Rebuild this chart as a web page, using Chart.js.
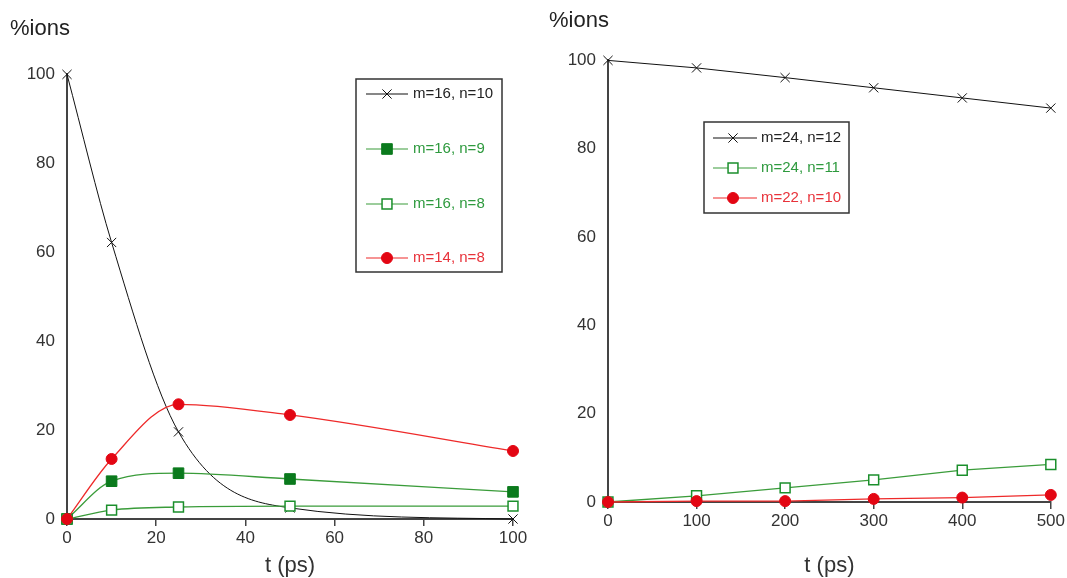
<!DOCTYPE html>
<html>
<head>
<meta charset="utf-8">
<script src="https://cdn.jsdelivr.net/npm/chart.js@4.4.0/dist/chart.umd.min.js"></script>
<style>
  html, body { margin: 0; padding: 0; background: #fff; }
  #wrap { position: relative; width: 1067px; height: 578px; }
  #left { position: absolute; left: 0; top: 0; }
  #right { position: absolute; left: 540px; top: 0; }
</style>
</head>
<body>
<div id="wrap">
  <canvas id="left" width="540" height="578"></canvas>
  <canvas id="right" width="527" height="578"></canvas>
</div>
<script>
// temps (ps) et pourcentages
const tLeft = [0, 10, 25, 50, 100];
const m16n10 = [100, 62.2, 19.6, 2.5, 0];
const m16n9 = [0, 8.5, 10.3, 9.0, 6.1];
const m16n8 = [0, 2.0, 2.7, 2.9, 2.9];
const m14n8 = [0, 13.5, 25.8, 23.4, 15.3];

const tRight = [0, 100, 200, 300, 400, 500];
const m24n12 = [100, 98.3, 96.1, 93.8, 91.5, 89.2];
const m24n11 = [0, 1.4, 3.2, 5.0, 7.2, 8.5];
const m22n10 = [0, 0.2, 0.2, 0.7, 1.0, 1.6];

const yTicks = [0, 20, 40, 60, 80, 100];
const xTicksLeft = [0, 20, 40, 60, 80, 100];
const xTicksRight = [0, 100, 200, 300, 400, 500];

const FONT = '"Liberation Sans", Arial, sans-serif';
const BLACK = '#111';
const GREEN_LINE = '#3a9c3a';
const GREEN_DARK = '#0b7a1d';
const GREEN_OPEN = '#1b8f2c';
const RED = '#e30613';

function pts(xs, ys) {
    return xs.map((x, i) => ({ x: x, y: ys[i] }));
}

// legende encadree dessinee dans la zone du graphique
const boxLegend = {
    id: 'boxLegend',
    afterDatasetsDraw(chart, args, opts) {
        const ctx = chart.ctx;
        ctx.save();
        ctx.strokeStyle = '#333';
        ctx.lineWidth = 1.5;
        ctx.strokeRect(opts.x, opts.y, opts.w, opts.h);
        ctx.font = '15px ' + FONT;
        ctx.textBaseline = 'middle';
        ctx.textAlign = 'left';
        chart.data.datasets.forEach((ds, i) => {
            const y = opts.rows[i];
            ctx.strokeStyle = ds.borderColor;
            ctx.lineWidth = 1.2;
            ctx.beginPath();
            ctx.moveTo(opts.lineX0, y);
            ctx.lineTo(opts.lineX1, y);
            ctx.stroke();
            ctx.fillStyle = ds.pointBackgroundColor;
            ctx.strokeStyle = ds.pointBorderColor;
            ctx.lineWidth = ds.pointBorderWidth;
            Chart.helpers.drawPoint(ctx, {
                pointStyle: ds.pointStyle,
                radius: ds.pointRadius,
                borderWidth: ds.pointBorderWidth,
                rotation: 0
            }, opts.markX, y);
            ctx.fillStyle = opts.textColors[i];
            ctx.fillText(ds.label, opts.textX, y);
        });
        ctx.restore();
    }
};

function axes(xMax, xTicks, yWidth, xHeight) {
    return {
        x: {
            type: 'linear',
            min: 0,
            max: xMax,
            afterBuildTicks: (s) => { s.ticks = xTicks.map(v => ({ value: v })); },
            afterFit: (s) => { s.height = xHeight; },
            grid: { drawOnChartArea: false, drawTicks: true, tickLength: 7, color: '#444', lineWidth: 1.5 },
            border: { display: true, color: '#444', width: 2 },
            ticks: { color: '#333', padding: 2, font: { size: 17, family: FONT }, maxRotation: 0 },
            title: { display: true, text: 't (ps)', color: '#333', font: { size: 22, family: FONT, lineHeight: 1.1 }, padding: { top: 0, bottom: 0 } }
        },
        y: {
            type: 'linear',
            min: 0,
            max: 100,
            afterBuildTicks: (s) => { s.ticks = yTicks.map(v => ({ value: v })); },
            afterFit: (s) => { s.width = yWidth; },
            grid: { drawOnChartArea: false, drawTicks: false },
            border: { display: true, color: '#444', width: 2 },
            ticks: { color: '#333', padding: 12, font: { size: 17, family: FONT } }
        }
    };
}

function titleOpts(top, bottom) {
    return {
        display: true,
        text: '%ions',
        align: 'start',
        color: '#222',
        font: { size: 22, family: FONT, weight: 'normal', lineHeight: 1.2 },
        padding: { top: top, bottom: bottom }
    };
}

// graphique de gauche
new Chart(document.getElementById('left').getContext('2d'), {
    type: 'line',
    data: {
        datasets: [{
            label: 'm=16, n=10',
            data: pts(tLeft, m16n10),
            borderColor: BLACK,
            borderWidth: 1,
            pointStyle: 'crossRot',
            pointRadius: 6.5,
            pointBorderColor: BLACK,
            pointBackgroundColor: BLACK,
            pointBorderWidth: 1,
            cubicInterpolationMode: 'monotone',
            order: 3
        }, {
            label: 'm=16, n=9',
            data: pts(tLeft, m16n9),
            borderColor: GREEN_LINE,
            borderWidth: 1.3,
            pointStyle: 'rect',
            pointRadius: 7.5,
            pointBorderColor: GREEN_DARK,
            pointBackgroundColor: GREEN_DARK,
            pointBorderWidth: 1,
            cubicInterpolationMode: 'monotone',
            order: 2
        }, {
            label: 'm=16, n=8',
            data: pts(tLeft, m16n8),
            borderColor: GREEN_LINE,
            borderWidth: 1.3,
            pointStyle: 'rect',
            pointRadius: 7,
            pointBorderColor: GREEN_OPEN,
            pointBackgroundColor: '#fff',
            pointBorderWidth: 1.5,
            cubicInterpolationMode: 'monotone',
            order: 1
        }, {
            label: 'm=14, n=8',
            data: pts(tLeft, m14n8),
            borderColor: '#ee2a2a',
            borderWidth: 1.3,
            pointStyle: 'circle',
            pointRadius: 5.5,
            pointBorderColor: RED,
            pointBackgroundColor: RED,
            pointBorderWidth: 1,
            cubicInterpolationMode: 'monotone',
            order: 0
        }]
    },
    options: {
        responsive: false,
        animation: false,
        clip: false,
        layout: { padding: { left: 10, right: 27, top: 0, bottom: 0 } },
        scales: axes(100, xTicksLeft, 57, 59),
        plugins: {
            legend: { display: false },
            tooltip: { enabled: false },
            title: titleOpts(16, 32),
            boxLegend: {
                x: 356, y: 79, w: 146, h: 193,
                rows: [94, 149, 204, 258],
                lineX0: 366, lineX1: 408, markX: 387, textX: 413,
                textColors: ['#222', '#2e9a3e', '#2e9a3e', '#e8323a']
            }
        }
    },
    plugins: [boxLegend]
});

// graphique de droite
new Chart(document.getElementById('right').getContext('2d'), {
    type: 'line',
    data: {
        datasets: [{
            label: 'm=24, n=12',
            data: pts(tRight, m24n12),
            borderColor: BLACK,
            borderWidth: 1,
            pointStyle: 'crossRot',
            pointRadius: 6.5,
            pointBorderColor: BLACK,
            pointBackgroundColor: BLACK,
            pointBorderWidth: 1,
            tension: 0,
            order: 2
        }, {
            label: 'm=24, n=11',
            data: pts(tRight, m24n11),
            borderColor: GREEN_LINE,
            borderWidth: 1.3,
            pointStyle: 'rect',
            pointRadius: 7,
            pointBorderColor: GREEN_OPEN,
            pointBackgroundColor: '#fff',
            pointBorderWidth: 1.5,
            tension: 0,
            order: 1
        }, {
            label: 'm=22, n=10',
            data: pts(tRight, m22n10),
            borderColor: '#ee2a2a',
            borderWidth: 1.3,
            pointStyle: 'circle',
            pointRadius: 5.5,
            pointBorderColor: RED,
            pointBackgroundColor: RED,
            pointBorderWidth: 1,
            tension: 0,
            order: 0
        }]
    },
    options: {
        responsive: false,
        animation: false,
        clip: false,
        layout: { padding: { left: 9, right: 15, top: 0, bottom: 0 } },
        scales: axes(500, xTicksRight, 59, 76),
        plugins: {
            legend: { display: false },
            tooltip: { enabled: false },
            title: titleOpts(8, 26),
            boxLegend: {
                x: 164, y: 122, w: 145, h: 91,
                rows: [138, 168, 198],
                lineX0: 173, lineX1: 217, markX: 193, textX: 221,
                textColors: ['#222', '#2e9a3e', '#e8323a']
            }
        }
    },
    plugins: [boxLegend]
});
</script>
</body>
</html>
